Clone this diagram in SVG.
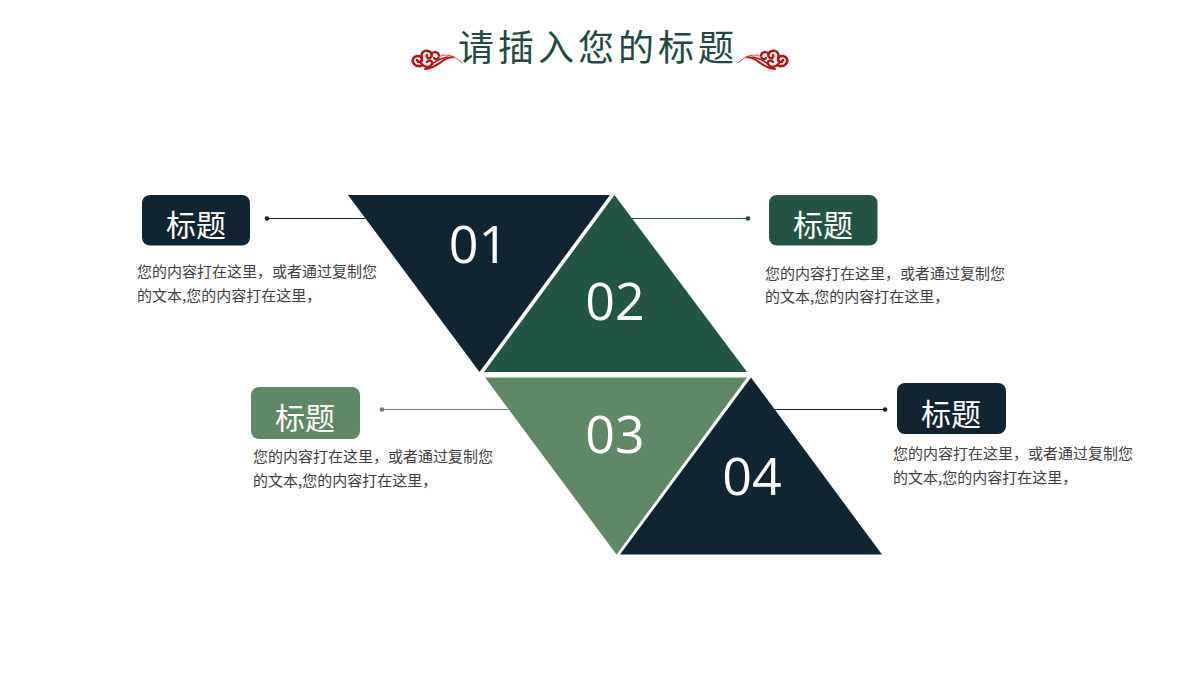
<svg xmlns="http://www.w3.org/2000/svg" width="1200" height="675" viewBox="0 0 1200 675">
<defs>
<style>
.cjk{font-family:"Noto Sans CJK SC","Noto Sans",sans-serif}
.num{font-family:"Open Sans","Noto Sans",sans-serif;font-size:52px;fill:#fff;text-anchor:middle}
.tag{font-size:30px;fill:#fff;text-anchor:middle}
.body{font-size:15px;fill:#404040}
.ln{stroke-width:1.2;fill:none}
.navy{fill:#102431}.green{fill:#225545}.sage{fill:#5f8866}
</style>
<g id="orn">
<g fill="none" stroke="#c00d12" stroke-linecap="round">
<path stroke-width="2.600" d="M421 66C414 67 412 62 413 59C415 55 421 55 422 59C422 62 418 63 417 60"/>
<path stroke-width="2.400" d="M422 58C420 53 424 50 428 51C432 52 433 56 430 58C428 59 426 57 427 55"/>
<path stroke-width="2.200" d="M431 54C434 51 439 52 439 56C439 59 435 60 434 58"/>
<path stroke-width="2.400" d="M421 63C424 68 430 68 432 64C433 61 429 59 427 62"/>
<path stroke-width="2" d="M425 69C433 69 438 64 444 60C447 58 450 57 453 57"/>
<path stroke-width="1.500" d="M433 63C439 59 443 58 447 57"/>
<path stroke-width="1" d="M438 57C446 53 454 55 462 63" stroke="#d84a4e"/>
</g>
</g>
</defs>
<rect width="1200" height="675" fill="#fff"/>
<g id="title">
<use href="#orn"/>
<use href="#orn" transform="matrix(-1 0 0 1 1200 0)"/>
<text class="cjk" x="598" y="61" font-size="36" letter-spacing="4" text-anchor="middle" fill="#224a40">请插入您的标题</text>
</g>
<g id="connectors">
<path class="ln" stroke="#102431" d="M267 218.500H365"/><circle cx="267" cy="218.500" r="2.300" class="navy"/>
<path class="ln" stroke="#225545" d="M632 218.500H748"/><circle cx="748" cy="218.500" r="2.300" class="green"/>
<path class="ln" stroke="#5f8866" d="M382 409.500H508"/><circle cx="382" cy="409.500" r="2.300" class="sage"/>
<path class="ln" stroke="#102431" d="M775 409.500H885"/><circle cx="885" cy="409.500" r="2.300" class="navy"/>
</g>
<g id="tri1"><polygon class="navy" points="348,195 610,195 479.500,372"/><text class="num" x="478.500" y="263">01</text></g>
<g id="tri2"><polygon class="green" points="614.500,195 747,372 484,372"/><text class="num" x="615" y="320">02</text></g>
<g id="tri3"><polygon class="sage" points="485,377.500 747,377.500 616.500,554.500"/><text class="num" x="615" y="453">03</text></g>
<g id="tri4"><polygon class="navy" points="751,377.500 882,554.500 620,554.500"/><text class="num" x="752" y="495">04</text></g>
<g id="node1" class="cjk"><rect class="navy" x="142" y="195" width="108" height="50.500" rx="8"/><text class="tag" x="196" y="236">标题</text>
<text class="body" x="137" y="276.500">您的内容打在这里，或者通过复制您</text><text class="body" x="137" y="300.500">的文本,您的内容打在这里，</text></g>
<g id="node2" class="cjk"><rect class="green" x="769" y="195" width="108.500" height="50.500" rx="8"/><text class="tag" x="823" y="236">标题</text>
<text class="body" x="765" y="278.500">您的内容打在这里，或者通过复制您</text><text class="body" x="765" y="301.500">的文本,您的内容打在这里，</text></g>
<g id="node3" class="cjk"><rect class="sage" x="251" y="387" width="109" height="52" rx="8"/><text class="tag" x="305" y="429">标题</text>
<text class="body" x="253" y="461.500">您的内容打在这里，或者通过复制您</text><text class="body" x="253" y="485.500">的文本,您的内容打在这里，</text></g>
<g id="node4" class="cjk"><rect class="navy" x="897" y="383" width="109" height="51" rx="8"/><text class="tag" x="951" y="425">标题</text>
<text class="body" x="893" y="458.500">您的内容打在这里，或者通过复制您</text><text class="body" x="893" y="482.500">的文本,您的内容打在这里，</text></g>
</svg>
